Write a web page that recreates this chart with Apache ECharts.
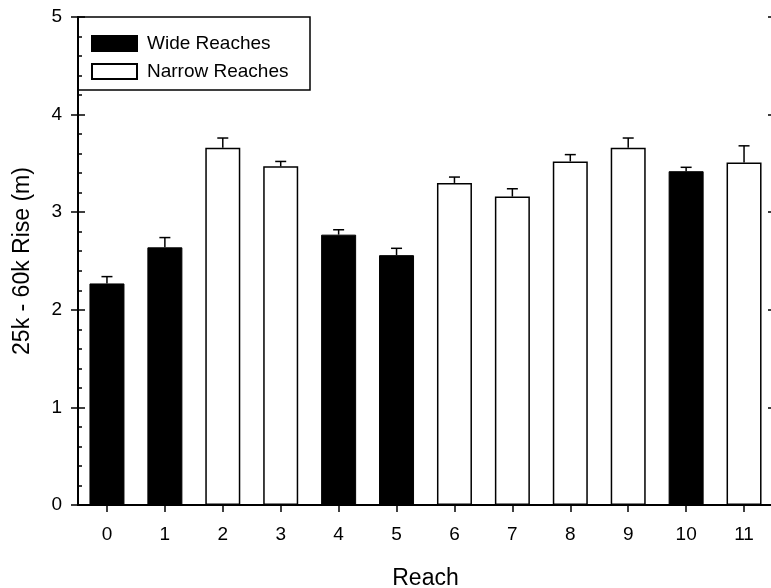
<!DOCTYPE html>
<html>
<head>
<meta charset="utf-8">
<script src="https://cdn.jsdelivr.net/npm/echarts@6/dist/echarts.min.js"></script>
<style>
html,body{margin:0;padding:0;background:#fff;}
#c{width:771px;height:588px;}
</style>
</head>
<body>
<div id="c"></div>
<script>
var categories = ['0','1','2','3','4','5','6','7','8','9','10','11'];
var riseValues = [2.27, 2.64, 3.66, 3.47, 2.77, 2.56, 3.30, 3.16, 3.52, 3.66, 3.42, 3.51];
var riseErrors = [0.07, 0.10, 0.10, 0.05, 0.05, 0.07, 0.06, 0.08, 0.07, 0.10, 0.04, 0.17];
var reachType  = ['W','W','N','N','W','W','N','N','N','N','W','N'];
var yTicks = [0, 1, 2, 3, 4, 5];

var FONT = "'Liberation Sans', Arial, Helvetica, sans-serif";

var wideData = riseValues.map(function(v, i){ return reachType[i] === 'W' ? v : null; });
var narrowData = riseValues.map(function(v, i){ return reachType[i] === 'N' ? v : null; });
var errData = riseValues.map(function(v, i){ return [i, v, riseErrors[i]]; });

var chart = echarts.init(document.getElementById('c'), null, {renderer:'canvas'});
var GL = 78, GT = 17, GW = 695, GH = 488;

chart.setOption({
  animation: false,
  backgroundColor: '#fff',
  textStyle: {fontFamily: FONT},
  grid: {left: GL, top: GT, width: GW, height: GH, containLabel: false, outerBoundsMode: 'none'},
  legend: {
    orient: 'vertical',
    left: GL + 13, top: GT + 17,
    padding: 0,
    itemWidth: 45, itemHeight: 15, itemGap: 9,
    icon: 'rect',
    textStyle: {fontFamily: FONT, fontSize: 19, color: '#000', padding: [0,0,0,5]},
    data: ['Wide Reaches', 'Narrow Reaches']
  },
  graphic: [{
    type: 'rect', z: 50,
    shape: {x: GL, y: GT, width: 232, height: 73},
    style: {fill: 'rgba(0,0,0,0)', stroke: '#000', lineWidth: 1.5}
  }],
  xAxis: [{
    type: 'category', data: categories, position: 'bottom',
    axisLine: {show: true, lineStyle: {color: '#000', width: 2}},
    axisTick: {show: true, inside: false, length: 7, alignWithLabel: true, lineStyle: {color: '#000', width: 1.5}},
    axisLabel: {fontSize: 19, color: '#000', margin: 20, fontFamily: FONT},
    name: 'Reach', nameLocation: 'middle', nameGap: 62,
    nameTextStyle: {fontSize: 23, color: '#000', fontFamily: FONT},
    splitLine: {show: false}
  }, {
    type: 'category', data: categories, position: 'top',
    axisLine: {show: true, lineStyle: {color: '#000', width: 2}},
    axisTick: {show: false}, axisLabel: {show: false}, splitLine: {show: false}
  }],
  yAxis: [{
    type: 'value', min: yTicks[0], max: yTicks[yTicks.length-1], interval: 1, position: 'left',
    axisLine: {show: true, lineStyle: {color: '#000', width: 2}},
    axisTick: {show: true, inside: false, length: 7, lineStyle: {color: '#000', width: 1.5}},
    axisLabel: {fontSize: 19, color: '#000', margin: 16, fontFamily: FONT},
    splitLine: {show: false},
    name: '25k - 60k Rise (m)', nameLocation: 'middle', nameGap: 44,
    nameTextStyle: {fontSize: 23, color: '#000', fontFamily: FONT}
  }, {
    type: 'value', min: 0, max: 5, interval: 1, position: 'left', offset: 0,
    axisLine: {show: false},
    axisTick: {show: true, inside: true, length: 7, lineStyle: {color: '#000', width: 1.5}},
    minorTick: {show: true, splitNumber: 5, length: 4, lineStyle: {color: '#000', width: 1.5}},
    axisLabel: {show: false}, splitLine: {show: false}
  }, {
    type: 'value', min: 0, max: 5, interval: 1, position: 'right',
    axisLine: {show: false},
    axisTick: {show: true, inside: true, length: 5, lineStyle: {color: '#000', width: 1.5}},
    axisLabel: {show: false}, splitLine: {show: false}
  }],
  series: [{
    name: 'Wide Reaches', type: 'bar', data: wideData, barWidth: 35, barGap: '-100%',
    itemStyle: {color: '#000', borderColor: '#000', borderWidth: 1}
  }, {
    name: 'Narrow Reaches', type: 'bar', data: narrowData, barWidth: 35, barGap: '-100%',
    itemStyle: {color: '#fff', borderColor: '#000', borderWidth: 1.5}
  }, {
    name: 'err', type: 'custom', z: 10, data: errData,
    encode: {x: 0, y: 1},
    renderItem: function(params, api){
      var x = api.value(0), v = api.value(1), e = api.value(2);
      var p0 = api.coord([x, v]);
      var p1 = api.coord([x, v + e]);
      var st = {stroke: '#000', lineWidth: 1.5};
      return {type: 'group', children: [
        {type: 'line', shape: {x1: p0[0], y1: p0[1], x2: p1[0], y2: p1[1]}, style: st},
        {type: 'line', shape: {x1: p1[0] - 5.5, y1: p1[1], x2: p1[0] + 5.5, y2: p1[1]}, style: st}
      ]};
    }
  }]
});
</script>
</body>
</html>
